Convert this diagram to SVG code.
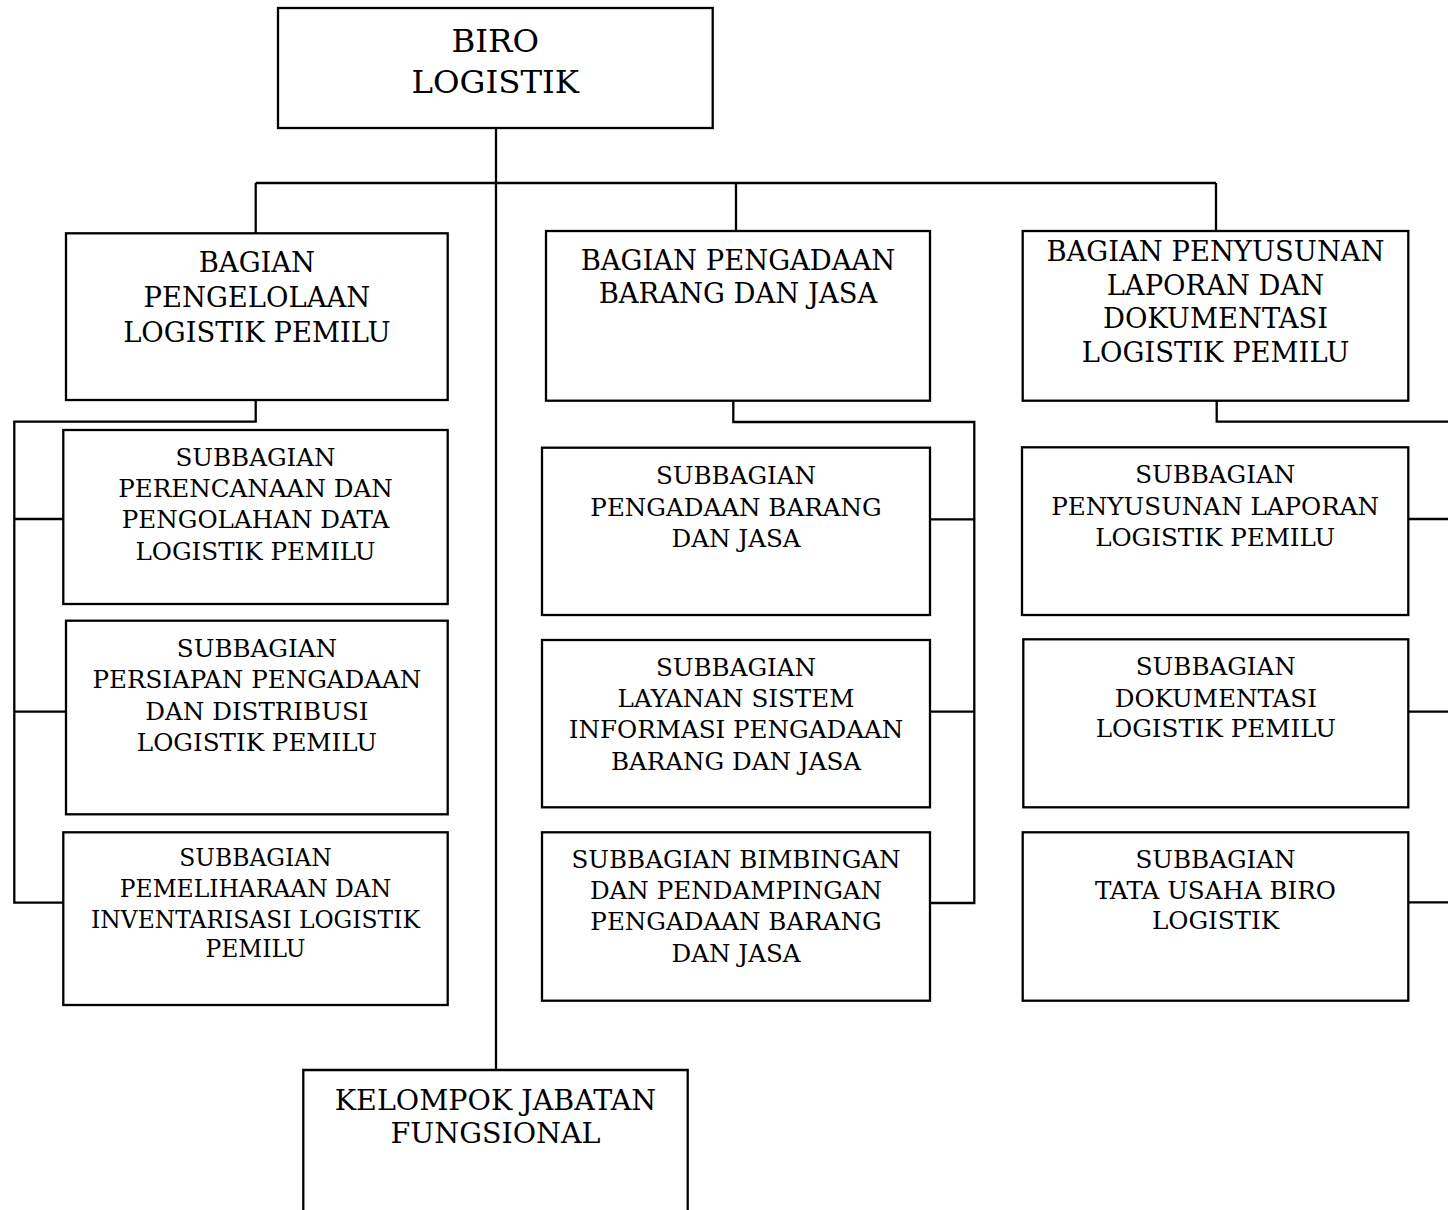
<svg xmlns="http://www.w3.org/2000/svg" width="1448" height="1210" viewBox="0 0 1448 1210">
  <style>
    .box { fill: #ffffff; stroke: #000000; stroke-width: 2.3; }
    .wire { fill: none; stroke: #000000; stroke-width: 2.3; }
    text { font-family: "DejaVu Serif", "Liberation Serif", serif; fill: #000000; text-anchor: middle; }
    .t1 { font-size: 32.4px; }
    .t2 { font-size: 27.4px; }
    .t3 { font-size: 24.6px; }
    .t4 { font-size: 23.4px; }
    .t5 { font-size: 28.5px; }
  </style>
  <rect width="1448" height="1210" fill="#ffffff"/>

  <!-- connectors -->
  <g id="connectors">
    <path class="wire" d="M496 128 V1070"/>
    <path class="wire" d="M255.7 183 H1216"/>
    <path class="wire" d="M255.7 183 V233 M736 183 V231 M1216 183 V231"/>
    <!-- left branch -->
    <path class="wire" d="M255.7 400 V421.7 H14.3 V902.7 H63.3"/>
    <path class="wire" d="M14.3 519 H68 M14.3 711.7 H68"/>
    <!-- middle branch -->
    <path class="wire" d="M733.3 400.7 V422 H974.3 V903 H930"/>
    <path class="wire" d="M930 519.3 H974.3 M928 711.7 H974.3"/>
    <!-- right branch -->
    <path class="wire" d="M1216.7 400.7 V421.7 H1452"/>
    <path class="wire" d="M1408 519 H1452 M1408 711.7 H1452 M1408 902.3 H1452"/>
  </g>

  <g id="biro-logistik">
    <rect class="box" x="278" y="8" width="434.7" height="120"/>
    <text class="t1" x="495.3" y="52">BIRO</text>
    <text class="t1" x="495.3" y="93">LOGISTIK</text>
  </g>

  <g id="bagian-pengelolaan">
    <rect class="box" x="66" y="233.3" width="381.7" height="166.7"/>
    <text class="t2" x="256.9" y="272">BAGIAN</text>
    <text class="t2" x="256.9" y="307">PENGELOLAAN</text>
    <text class="t2" x="256.9" y="341.7">LOGISTIK PEMILU</text>
  </g>

  <g id="bagian-pengadaan">
    <rect class="box" x="546" y="231" width="384" height="169.7"/>
    <text class="t2" x="738" y="270">BAGIAN PENGADAAN</text>
    <text class="t2" x="738" y="303.3">BARANG DAN JASA</text>
  </g>

  <g id="bagian-penyusunan">
    <rect class="box" x="1022.7" y="231" width="385.6" height="169.7"/>
    <text class="t2" x="1215.5" y="260.7">BAGIAN PENYUSUNAN</text>
    <text class="t2" x="1215.5" y="295">LAPORAN DAN</text>
    <text class="t2" x="1215.5" y="328">DOKUMENTASI</text>
    <text class="t2" x="1215.5" y="362">LOGISTIK PEMILU</text>
  </g>

  <g id="sub-perencanaan">
    <rect class="box" x="63.3" y="430" width="384.4" height="174"/>
    <text class="t3" x="255.5" y="465.7">SUBBAGIAN</text>
    <text class="t3" x="255.5" y="496.7">PERENCANAAN DAN</text>
    <text class="t3" x="255.5" y="528.3">PENGOLAHAN DATA</text>
    <text class="t3" x="255.5" y="560">LOGISTIK PEMILU</text>
  </g>

  <g id="sub-persiapan">
    <rect class="box" x="66" y="620.7" width="381.7" height="193.6"/>
    <text class="t3" x="256.9" y="656.7">SUBBAGIAN</text>
    <text class="t3" x="256.9" y="688.3">PERSIAPAN PENGADAAN</text>
    <text class="t3" x="256.9" y="720">DAN DISTRIBUSI</text>
    <text class="t3" x="256.9" y="750.7">LOGISTIK PEMILU</text>
  </g>

  <g id="sub-pemeliharaan">
    <rect class="box" x="63.3" y="832.3" width="384.4" height="172.7"/>
    <text class="t4" x="255.5" y="865.7">SUBBAGIAN</text>
    <text class="t4" x="255.5" y="896.7">PEMELIHARAAN DAN</text>
    <text class="t4" x="255.5" y="927.7">INVENTARISASI LOGISTIK</text>
    <text class="t4" x="255.5" y="956.7">PEMILU</text>
  </g>

  <g id="sub-pengadaan">
    <rect class="box" x="542" y="447.7" width="388" height="167.3"/>
    <text class="t3" x="736" y="484">SUBBAGIAN</text>
    <text class="t3" x="736" y="515.7">PENGADAAN BARANG</text>
    <text class="t3" x="736" y="546.7">DAN JASA</text>
  </g>

  <g id="sub-layanan">
    <rect class="box" x="542" y="640" width="388" height="167.3"/>
    <text class="t3" x="736" y="675.7">SUBBAGIAN</text>
    <text class="t3" x="736" y="706.7">LAYANAN SISTEM</text>
    <text class="t3" x="736" y="738.3">INFORMASI PENGADAAN</text>
    <text class="t3" x="736" y="770">BARANG DAN JASA</text>
  </g>

  <g id="sub-bimbingan">
    <rect class="box" x="542" y="832.3" width="388" height="168.4"/>
    <text class="t3" x="736" y="867.7">SUBBAGIAN BIMBINGAN</text>
    <text class="t3" x="736" y="899">DAN PENDAMPINGAN</text>
    <text class="t3" x="736" y="930">PENGADAAN BARANG</text>
    <text class="t3" x="736" y="962.3">DAN JASA</text>
  </g>

  <g id="sub-penyusunan">
    <rect class="box" x="1022" y="447.3" width="386.3" height="167.7"/>
    <text class="t3" x="1215.2" y="483.3">SUBBAGIAN</text>
    <text class="t3" x="1215.2" y="515">PENYUSUNAN LAPORAN</text>
    <text class="t3" x="1215.2" y="546">LOGISTIK PEMILU</text>
  </g>

  <g id="sub-dokumentasi">
    <rect class="box" x="1023.3" y="639.3" width="385" height="168"/>
    <text class="t3" x="1215.8" y="675">SUBBAGIAN</text>
    <text class="t3" x="1215.8" y="706.7">DOKUMENTASI</text>
    <text class="t3" x="1215.8" y="737.3">LOGISTIK PEMILU</text>
  </g>

  <g id="sub-tata-usaha">
    <rect class="box" x="1022.7" y="832.3" width="385.6" height="168.4"/>
    <text class="t3" x="1215.5" y="868.3">SUBBAGIAN</text>
    <text class="t3" x="1215.5" y="899.3">TATA USAHA BIRO</text>
    <text class="t3" x="1215.5" y="929.3">LOGISTIK</text>
  </g>

  <g id="kelompok-jabatan">
    <path class="wire" d="M303.3 1215 V1070 H687.7 V1215"/>
    <text class="t5" x="495.5" y="1110">KELOMPOK JABATAN</text>
    <text class="t5" x="495.5" y="1142.7">FUNGSIONAL</text>
  </g>
</svg>
